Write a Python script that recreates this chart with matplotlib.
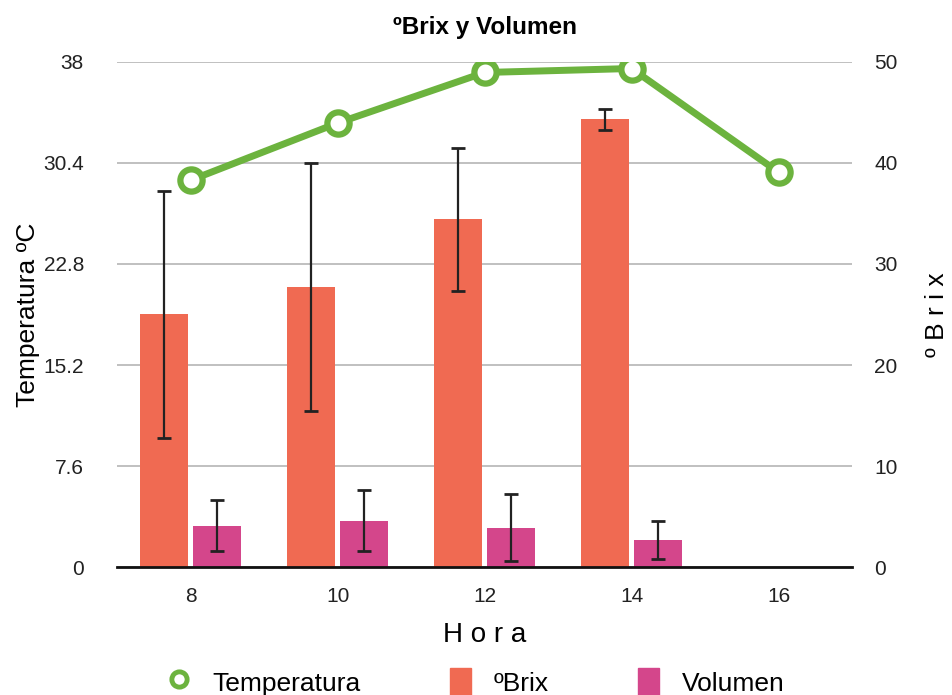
import matplotlib.pyplot as plt
import numpy as np
from matplotlib.lines import Line2D
from matplotlib.patches import Patch

plt.rcParams['font.family'] = ['Liberation Sans', 'DejaVu Sans']

horas = ['8', '10', '12', '14', '16']
temperatura = [29.1, 33.4, 37.2, 37.5, 29.7]
brix = [25.0, 27.7, 34.4, 44.3]
brix_err = [12.2, 12.3, 7.1, 1.0]
volumen = [4.1, 4.6, 3.9, 2.7]
volumen_err = [2.5, 3.0, 3.3, 1.9]

GREEN = '#6cb33e'
ORANGE = '#f06a52'
MAGENTA = '#d4468b'

fig = plt.figure(figsize=(9.53, 6.95), dpi=100)
# bars go on the Brix axis (right), temperature line on a transparent axis on top
ax2 = fig.add_axes([0.123, 0.184, 0.771, 0.727])
ax = fig.add_axes(ax2.get_position(), sharex=ax2)
ax.patch.set_visible(False)

x = np.arange(len(horas))
xb = np.arange(len(brix))
w = 0.33
off = 0.18

ax2.bar(xb - off, brix, w, color=ORANGE, zorder=2)
ax2.errorbar(xb - off, brix, yerr=brix_err, fmt='none', ecolor='#222222',
             elinewidth=1.6, capsize=5, capthick=2, zorder=3)
ax2.bar(xb + off, volumen, w, color=MAGENTA, zorder=2)
ax2.errorbar(xb + off, volumen, yerr=volumen_err, fmt='none', ecolor='#222222',
             elinewidth=1.6, capsize=5, capthick=2, zorder=3)

ax.plot(x, temperatura, color=GREEN, lw=5, marker='o', ms=16,
        mfc='white', mec=GREEN, mew=4.5, zorder=4)

ax.set_xlim(-0.5, 4.5)
ax.set_ylim(0, 38)
ax2.set_ylim(0, 50)
ax.set_yticks([0, 7.6, 15.2, 22.8, 30.4, 38])
ax.set_yticklabels(['0', '7.6', '15.2', '22.8', '30.4', '38'])
ax2.set_yticks([0, 10, 20, 30, 40, 50])
ax2.yaxis.tick_right()
ax2.yaxis.set_label_position('right')
ax.yaxis.tick_left()
ax.set_xticks(x)
ax.set_xticklabels(horas)
ax2.tick_params(axis='x', labelbottom=False, length=0)

ax2.grid(axis='y', color='#bbbbbb', lw=1.3, zorder=0)
ax2.set_axisbelow(True)
for a in (ax, ax2):
    for s in a.spines.values():
        s.set_visible(False)
ax.spines['bottom'].set_visible(True)
ax.spines['bottom'].set_linewidth(2)
ax.spines['bottom'].set_color('#111111')

ax.tick_params(axis='y', length=0, pad=24, labelsize=15, colors='#222222')
ax2.tick_params(axis='y', length=0, pad=16, labelsize=15, colors='#222222')
ax.tick_params(axis='x', length=0, pad=14, labelsize=15, colors='#222222')

ax.set_ylabel('Temperatura ºC', fontsize=19, labelpad=2)
ax2.set_ylabel('º B r i x', fontsize=19, labelpad=20)
ax.set_xlabel('H o r a', fontsize=20, labelpad=12)
ax.set_title('ºBrix y Volumen', fontsize=17.5, fontweight='bold', pad=20)

handles = [
    Line2D([], [], color=GREEN, marker='o', ls='none', ms=11, mfc='white', mew=3.5),
    Patch(color=ORANGE),
    Patch(color=MAGENTA),
]
fig.legend(handles, ['Temperatura', 'ºBrix', 'Volumen'], loc='lower center',
           bbox_to_anchor=(0.5, -0.035), ncol=3, frameon=False, fontsize=19,
           columnspacing=3.4, handlelength=0.8, handleheight=1.2, handletextpad=0.85)

fig.savefig('out.png', dpi=100)
